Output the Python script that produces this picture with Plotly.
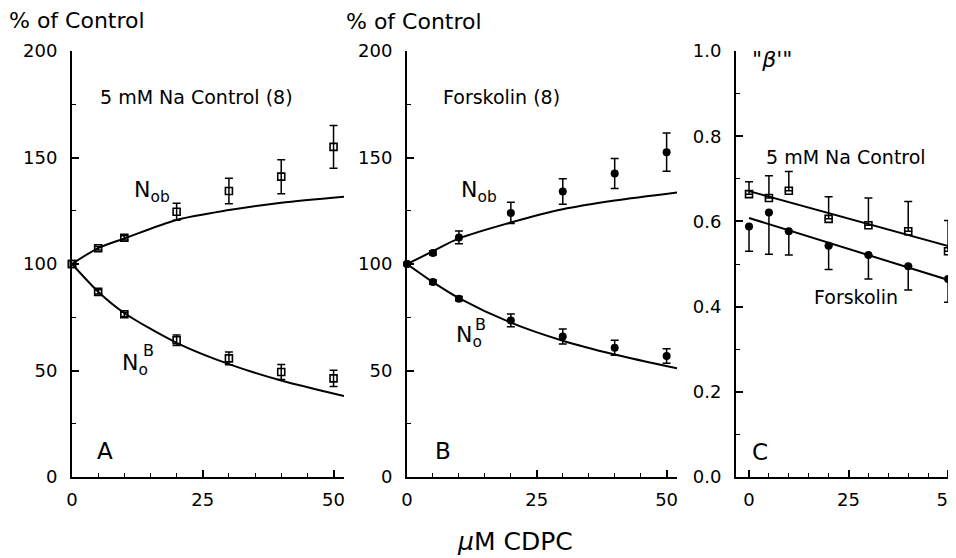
import plotly.graph_objects as go

# ---------------- data ----------------
conc = [0, 5, 10, 20, 30, 40, 50]

# Panel A: 5 mM Na control (open squares)
a_nob = [100, 107.4, 112.3, 124.5, 134.3, 141, 155]
a_nob_err = [0, 0.8, 1, 4, 6, 8, 10]
a_nob_fit_x = [0, 5, 10, 20, 30, 40, 52]
a_nob_fit_y = [100, 107.5, 112, 120.7, 125.3, 128.8, 131.6]

a_nob_B = [100, 86.9, 76.4, 64.2, 55.7, 49.3, 46.3]
a_nob_B_err = [0, 1, 1, 2.5, 3, 3.5, 3.8]
a_nobB_fit_x = [0, 5, 10, 20, 30, 40, 52]
a_nobB_fit_y = [100, 87, 77, 63, 53, 45.3, 38]

# Panel B: forskolin (filled circles)
b_nob = [100, 105.2, 112.5, 124, 134, 142.5, 152.5]
b_nob_err = [0, 1, 3, 5, 6, 7, 9]
b_nob_fit_x = [0, 5, 10, 20, 30, 40, 52]
b_nob_fit_y = [100, 106, 112, 119.5, 125.7, 129.8, 133.6]

b_nob_B = [100, 91.5, 83.7, 73.5, 66, 60.7, 56.8]
b_nob_B_err = [0, 1, 1, 3, 3.5, 3.5, 3.4]
b_nobB_fit_x = [0, 5, 10, 20, 30, 40, 52]
b_nobB_fit_y = [100, 91.5, 84, 72.5, 64, 57.5, 51]

# Panel C: beta'
c_ctrl = [0.664, 0.655, 0.672, 0.606, 0.591, 0.577, 0.530]
c_ctrl_err = [0.029, 0.052, 0.045, 0.052, 0.064, 0.070, 0.072]
c_ctrl_fit_x = [0, 52]
c_ctrl_fit_y = [0.671, 0.537]

c_forsk = [0.588, 0.621, 0.577, 0.543, 0.521, 0.495, 0.465]
c_forsk_err = [0.058, 0.098, 0.056, 0.056, 0.056, 0.056, 0.055]
c_forsk_fit_x = [0, 52]
c_forsk_fit_y = [0.608, 0.457]

pct_ticks = [0, 50, 100, 150, 200]
beta_ticks = [0.0, 0.2, 0.4, 0.6, 0.8, 1.0]
beta_ticklabels = ["0.0", "0.2", "0.4", "0.6", "0.8", "1.0"]
conc_ticks = [0, 25, 50]

# ---------------- figure ----------------
W, H = 948, 550
OFF = 8  # page body margin in the browser
FONT = "DejaVu Sans"
BLACK = "black"

fig = go.Figure()

def err(vals, width=4):
    return dict(type="data", array=vals, visible=True, color=BLACK, thickness=1.5, width=width)

open_sq = dict(symbol="square-open", size=7, color=BLACK, line=dict(width=1.6, color=BLACK))
dot = dict(symbol="circle", size=8, color=BLACK)
fit_line = dict(color=BLACK, width=2, shape="spline", smoothing=0.8)

# Panel A
fig.add_trace(go.Scatter(x=a_nob_fit_x, y=a_nob_fit_y, mode="lines", line=fit_line,
                         xaxis="x", yaxis="y", cliponaxis=False))
fig.add_trace(go.Scatter(x=a_nobB_fit_x, y=a_nobB_fit_y, mode="lines", line=fit_line,
                         xaxis="x", yaxis="y", cliponaxis=False))
fig.add_trace(go.Scatter(x=conc, y=a_nob, mode="markers", marker=open_sq, error_y=err(a_nob_err),
                         xaxis="x", yaxis="y", cliponaxis=False))
fig.add_trace(go.Scatter(x=conc, y=a_nob_B, mode="markers", marker=open_sq, error_y=err(a_nob_B_err),
                         xaxis="x", yaxis="y", cliponaxis=False))

# Panel B
fig.add_trace(go.Scatter(x=b_nob_fit_x, y=b_nob_fit_y, mode="lines", line=fit_line,
                         xaxis="x2", yaxis="y2", cliponaxis=False))
fig.add_trace(go.Scatter(x=b_nobB_fit_x, y=b_nobB_fit_y, mode="lines", line=fit_line,
                         xaxis="x2", yaxis="y2", cliponaxis=False))
fig.add_trace(go.Scatter(x=conc, y=b_nob, mode="markers", marker=dot, error_y=err(b_nob_err),
                         xaxis="x2", yaxis="y2", cliponaxis=False))
fig.add_trace(go.Scatter(x=conc, y=b_nob_B, mode="markers", marker=dot, error_y=err(b_nob_B_err),
                         xaxis="x2", yaxis="y2", cliponaxis=False))

# Panel C
fig.add_trace(go.Scatter(x=c_ctrl_fit_x, y=c_ctrl_fit_y, mode="lines", line=dict(color=BLACK, width=2),
                         xaxis="x3", yaxis="y3", cliponaxis=False))
fig.add_trace(go.Scatter(x=c_forsk_fit_x, y=c_forsk_fit_y, mode="lines", line=dict(color=BLACK, width=2),
                         xaxis="x3", yaxis="y3", cliponaxis=False))
fig.add_trace(go.Scatter(x=conc, y=c_ctrl, mode="markers", marker=open_sq,
                         error_y=dict(type="data", symmetric=False, array=c_ctrl_err,
                                      arrayminus=[0] * len(c_ctrl_err), color=BLACK,
                                      thickness=1.5, width=4),
                         xaxis="x3", yaxis="y3", cliponaxis=False))
fig.add_trace(go.Scatter(x=conc, y=c_forsk, mode="markers", marker=dot,
                         error_y=dict(type="data", symmetric=False, array=[0] * len(c_forsk_err),
                                      arrayminus=c_forsk_err, color=BLACK,
                                      thickness=1.5, width=4),
                         xaxis="x3", yaxis="y3", cliponaxis=False))

# axes geometry (screen pixels -> paper)
def px(x):
    return (x - OFF) / W

def py(y):
    return 1 - (y - OFF) / H

ydom = [py(477), py(51)]
tickfont = dict(family=FONT, size=18, color=BLACK)

def xax(dom, rng, anchor):
    return dict(domain=dom, range=rng, anchor=anchor, showline=True, linecolor=BLACK, linewidth=2,
                ticks="inside", ticklen=7, tickwidth=1.5, tickcolor=BLACK, automargin=False,
                tickvals=conc_ticks, showgrid=False, zeroline=False, tickfont=tickfont,
                ticklabelstandoff=5, ticklabeloverflow="allow",
                minor=dict(ticks="inside", ticklen=4, tickwidth=1.2, tickcolor=BLACK, dtick=5, tick0=0,
                           showgrid=False))

def yax(rng, anchor, tv, tt, mdt):
    return dict(domain=ydom, range=rng, anchor=anchor, showline=True, linecolor=BLACK, linewidth=2,
                ticks="inside", ticklen=7, tickwidth=1.5, tickcolor=BLACK, automargin=False,
                tickvals=tv, ticktext=tt, showgrid=False, zeroline=False, tickfont=tickfont,
                ticklabelstandoff=9,
                minor=dict(ticks="inside", ticklen=4, tickwidth=1.2, tickcolor=BLACK, dtick=mdt, tick0=0,
                           showgrid=False))

fig.update_layout(
    width=W, height=H,
    margin=dict(l=0, r=0, t=0, b=0, autoexpand=False),
    paper_bgcolor="white", plot_bgcolor="rgba(0,0,0,0)",
    showlegend=False,
    font=dict(family=FONT, color=BLACK),
    xaxis=xax([px(72), px(344)], [0, 52], "y"),
    xaxis2=xax([px(407), px(677)], [0, 52], "y2"),
    xaxis3=xax([px(736), 1.0], [-3.27, 52], "y3"),
    yaxis=yax([0, 200], "x", pct_ticks, [str(v) for v in pct_ticks], 25),
    yaxis2=yax([0, 200], "x2", pct_ticks, [str(v) for v in pct_ticks], 25),
    yaxis3=yax([0, 1.0], "x3", beta_ticks, beta_ticklabels, 0.1),
)

def ann(text, x, y, size, xanchor="left", yanchor="middle"):
    fig.add_annotation(text=text, x=px(x), y=py(y), xref="paper", yref="paper",
                       xanchor=xanchor, yanchor=yanchor, showarrow=False, borderpad=0,
                       font=dict(family=FONT, size=size, color=BLACK))

ann("% of Control", 8, 20, 22)
ann("% of Control", 345, 21, 22)
ann("5 mM Na Control (8)", 196, 97, 19, xanchor="center")
ann("Forskolin (8)", 501, 97, 19, xanchor="center")

ann("N<sub>ob</sub>", 133, 192, 22)
ann("N<sub>o</sub>", 121, 364, 22)
ann("B", 142, 350, 16)
ann("N<sub>ob</sub>", 460, 192, 22)
ann("N<sub>o</sub>", 455, 336, 22)
ann("B", 474, 324, 16)

ann("A", 105, 451, 23, xanchor="center")
ann("B", 443, 451, 23, xanchor="center")
ann("C", 760, 452, 23, xanchor="center")

ann("\"<i>β</i>'\"", 751, 60, 22)
ann("5 mM Na Control", 765, 157, 19)
ann("Forskolin", 813, 297, 19)

ann("<i>μ</i>M CDPC", 515, 541, 25, xanchor="center")

fig.write_html("out.html")
